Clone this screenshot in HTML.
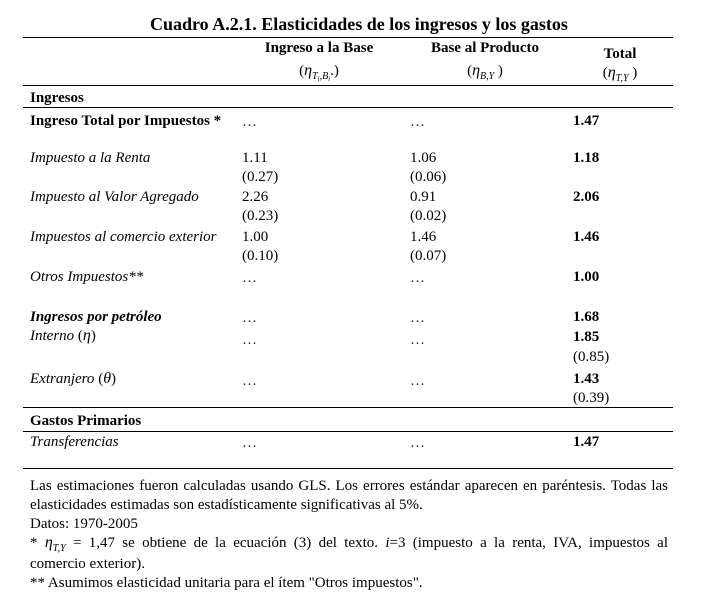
<!DOCTYPE html>
<html>
<head>
<meta charset="utf-8">
<style>
  html, body { margin:0; padding:0; background:#fff; }
  body { width:722px; height:600px; position:relative; overflow:hidden;
         font-family:"Liberation Serif", "DejaVu Serif", serif; color:#000; }
  .t { position:absolute; font-size:15px; line-height:20px; white-space:nowrap; }
  .b { font-weight:bold; }
  .i { font-style:italic; }
  .c { width:200px; text-align:center; }
  .hr { position:absolute; left:23px; width:650px; height:1px; background:#000; }
  .sub { font-size:10px; font-style:italic; position:relative; top:4px; }
  .sub2 { font-size:7px; font-style:italic; position:relative; top:2px; }
  .eta { font-style:italic; font-size:16px; }
  .fn { position:absolute; left:30px; width:638px; font-size:15px; line-height:20px; white-space:nowrap; }
  .just { white-space:normal; text-align:justify; text-align-last:justify; }
  .w { position:absolute; left:0; top:2px; width:722px; height:600px; }
  .e { color:#333; }
</style>
</head>
<body>

<!-- Title -->
<div class="t b" style="left:150px; width:400px; text-align:center; top:14px; font-size:18px;">Cuadro A.2.1. Elasticidades de los ingresos y los gastos</div>
<div class="hr" style="top:37px;"></div>
<div class="hr" style="top:85px;"></div>
<div class="hr" style="top:107px;"></div>
<div class="hr" style="top:407px;"></div>
<div class="hr" style="top:431px;"></div>
<div class="hr" style="top:468px;"></div>

<div class="w">
<!-- Headers -->
<div class="t b c" style="left:219px; top:36px;">Ingreso a la Base</div>
<div class="t b c" style="left:385px; top:36px;">Base al Producto</div>
<div class="t b c" style="left:520px; top:42px;">Total</div>

<div class="t c" style="left:219px; top:59px;">(<span class="eta">η</span><span class="sub">T<span class="sub2">i</span>,B<span class="sub2">i</span></span>.)</div>
<div class="t c" style="left:385px; top:59px;">(<span class="eta">η</span><span class="sub">B,Y</span> )</div>
<div class="t c" style="left:520px; top:61px;">(<span class="eta">η</span><span class="sub">T,Y</span> )</div>

<div class="t b" style="left:30px; top:86px;">Ingresos</div>

<div class="t b" style="left:30px; top:109px;">Ingreso Total por Impuestos *</div>
<div class="t e" style="left:242px; top:110px;">…</div>
<div class="t e" style="left:410px; top:110px;">…</div>
<div class="t b" style="left:573px; top:109px;">1.47</div>

<div class="t i" style="left:30px; top:146px;">Impuesto a la Renta</div>
<div class="t" style="left:242px; top:146px;">1.11</div>
<div class="t" style="left:410px; top:146px;">1.06</div>
<div class="t b" style="left:573px; top:146px;">1.18</div>
<div class="t" style="left:242px; top:165px;">(0.27)</div>
<div class="t" style="left:410px; top:165px;">(0.06)</div>

<div class="t i" style="left:30px; top:185px;">Impuesto al Valor Agregado</div>
<div class="t" style="left:242px; top:185px;">2.26</div>
<div class="t" style="left:410px; top:185px;">0.91</div>
<div class="t b" style="left:573px; top:185px;">2.06</div>
<div class="t" style="left:242px; top:204px;">(0.23)</div>
<div class="t" style="left:410px; top:204px;">(0.02)</div>

<div class="t i" style="left:30px; top:225px;">Impuestos al comercio exterior</div>
<div class="t" style="left:242px; top:225px;">1.00</div>
<div class="t" style="left:410px; top:225px;">1.46</div>
<div class="t b" style="left:573px; top:225px;">1.46</div>
<div class="t" style="left:242px; top:244px;">(0.10)</div>
<div class="t" style="left:410px; top:244px;">(0.07)</div>

<div class="t i" style="left:30px; top:265px;">Otros Impuestos**</div>
<div class="t e" style="left:242px; top:266px;">…</div>
<div class="t e" style="left:410px; top:266px;">…</div>
<div class="t b" style="left:573px; top:265px;">1.00</div>

<div class="t b i" style="left:30px; top:305px;">Ingresos por petróleo</div>
<div class="t e" style="left:242px; top:306px;">…</div>
<div class="t e" style="left:410px; top:306px;">…</div>
<div class="t b" style="left:573px; top:305px;">1.68</div>

<div class="t" style="left:30px; top:324px;"><span class="i">Interno</span> (<span class="eta">η</span>)</div>
<div class="t e" style="left:242px; top:328px;">…</div>
<div class="t e" style="left:410px; top:328px;">…</div>
<div class="t b" style="left:573px; top:325px;">1.85</div>
<div class="t" style="left:573px; top:345px;">(0.85)</div>

<div class="t" style="left:30px; top:367px;"><span class="i">Extranjero</span> (<span class="eta">θ</span>)</div>
<div class="t e" style="left:242px; top:369px;">…</div>
<div class="t e" style="left:410px; top:369px;">…</div>
<div class="t b" style="left:573px; top:367px;">1.43</div>
<div class="t" style="left:573px; top:386px;">(0.39)</div>

<div class="t b" style="left:30px; top:409px;">Gastos Primarios</div>

<div class="t i" style="left:30px; top:430px;">Transferencias</div>
<div class="t e" style="left:242px; top:431px;">…</div>
<div class="t e" style="left:410px; top:431px;">…</div>
<div class="t b" style="left:573px; top:430px;">1.47</div>

<!-- Footnotes -->
<div class="fn just" style="top:474px;">Las estimaciones fueron calculadas usando GLS. Los errores estándar aparecen en paréntesis. Todas las</div>
<div class="fn" style="top:493px;">elasticidades estimadas son estadísticamente significativas al 5%.</div>
<div class="fn" style="top:512px;">Datos: 1970-2005</div>
<div class="fn just" style="top:531px;">* <span class="eta">η</span><span class="sub">T,Y</span> = 1,47 se obtiene de la ecuación (3) del texto. <span class="i">i</span>=3 (impuesto a la renta, IVA, impuestos al</div>
<div class="fn" style="top:552px;">comercio exterior).</div>
<div class="fn" style="top:571px;">** Asumimos elasticidad unitaria para el ítem "Otros impuestos".</div>
</div>

</body>
</html>
